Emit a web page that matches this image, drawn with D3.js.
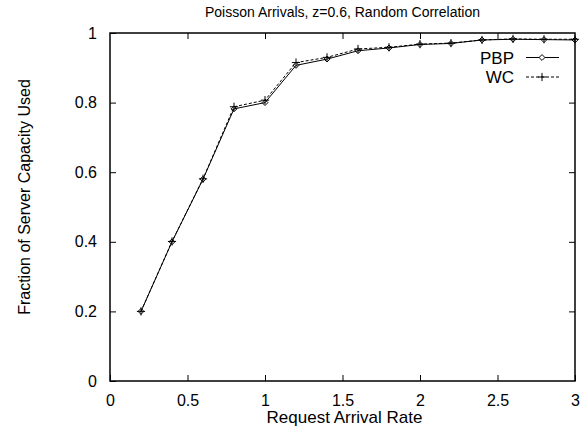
<!DOCTYPE html>
<html>
<head>
<meta charset="utf-8">
<script src="https://cdn.jsdelivr.net/npm/d3@7"></script>
<style>
  body { margin: 0; background: #fff; }
  svg { font-family: "Liberation Sans", Arial, Helvetica, sans-serif; }
</style>
</head>
<body>
<svg></svg>
<script>
const width = 581;
const height = 426;

// data
const arrivalRates = [0.2, 0.4, 0.6, 0.8, 1.0, 1.2, 1.4, 1.6, 1.8, 2.0, 2.2, 2.4, 2.6, 2.8, 3.0];
const pbpValues = [0.2, 0.4, 0.58, 0.782, 0.80, 0.907, 0.925, 0.949, 0.957, 0.967, 0.97, 0.98, 0.982, 0.981, 0.98];
const wcValues  = [0.2, 0.401, 0.581, 0.788, 0.807, 0.915, 0.93, 0.954, 0.959, 0.968, 0.971, 0.98, 0.983, 0.982, 0.982];
const xTicks = [0, 0.5, 1, 1.5, 2, 2.5, 3];
const yTicks = [0, 0.2, 0.4, 0.6, 0.8, 1];

const margin = {top: 33, right: 6, bottom: 45, left: 110};
const x0 = margin.left, x1 = width - margin.right;
const y0 = height - margin.bottom, y1 = margin.top;

const svg = d3.select('svg')
    .attr('width', width)
    .attr('height', height);

const x = d3.scaleLinear().domain([0, 3]).range([x0, x1]);
const y = d3.scaleLinear().domain([0, 1]).range([y0, y1]);

const tickLen = 6;

// bottom axis (ticks pointing in) + labels
svg.append('g')
    .attr('transform', `translate(0,${y0})`)
    .call(d3.axisBottom(x).tickValues(xTicks).tickSizeInner(-tickLen).tickSizeOuter(0).tickPadding(14)
        .tickFormat(d3.format('')))
    .call(g => g.select('.domain').remove())
    .call(g => g.selectAll('text').attr('font-size', 16).attr('fill', '#000'));

// top mirror ticks
svg.append('g')
    .attr('transform', `translate(0,${y1})`)
    .call(d3.axisTop(x).tickValues(xTicks.slice(1, -1)).tickSizeInner(-tickLen).tickSizeOuter(0).tickFormat(''))
    .call(g => g.select('.domain').remove());

// left axis
svg.append('g')
    .attr('transform', `translate(${x0},0)`)
    .call(d3.axisLeft(y).tickValues(yTicks).tickSizeInner(-tickLen).tickSizeOuter(0).tickPadding(13)
        .tickFormat(d3.format('')))
    .call(g => g.select('.domain').remove())
    .call(g => g.selectAll('text').attr('font-size', 16).attr('fill', '#000'));

// right mirror ticks
svg.append('g')
    .attr('transform', `translate(${x1},0)`)
    .call(d3.axisRight(y).tickValues(yTicks.slice(1, -1)).tickSizeInner(-tickLen).tickSizeOuter(0).tickFormat(''))
    .call(g => g.select('.domain').remove());

svg.selectAll('.tick line').attr('stroke', '#000');

// frame
svg.append('rect')
    .attr('x', x0).attr('y', y1)
    .attr('width', x1 - x0).attr('height', y0 - y1)
    .attr('fill', 'none').attr('stroke', '#000').attr('stroke-width', 1.5);

// titles
svg.append('text')
    .attr('x', (x0 + x1) / 2).attr('y', 17)
    .attr('text-anchor', 'middle').attr('font-size', 14)
    .text('Poisson Arrivals, z=0.6, Random Correlation');

svg.append('text')
    .attr('x', (x0 + x1) / 2 + 2).attr('y', 423)
    .attr('text-anchor', 'middle').attr('font-size', 17)
    .text('Request Arrival Rate');

svg.append('text')
    .attr('transform', `translate(30,${(y0 + y1) / 2 - 10}) rotate(-90)`)
    .attr('text-anchor', 'middle').attr('font-size', 16)
    .text('Fraction of Server Capacity Used');

const line = d3.line().x(d => x(d[0])).y(d => y(d[1]));
const pbp = arrivalRates.map((r, i) => [r, pbpValues[i]]);
const wc = arrivalRates.map((r, i) => [r, wcValues[i]]);

const plot = svg.append('g');

plot.append('path').datum(wc)
    .attr('d', line).attr('fill', 'none')
    .attr('stroke', '#000').attr('stroke-width', 1).attr('stroke-dasharray', '3,2');

plot.append('path').datum(pbp)
    .attr('d', line).attr('fill', 'none')
    .attr('stroke', '#000').attr('stroke-width', 1);

const diamond = d3.symbol().type(d3.symbolDiamond2).size(22);
const plus = d3.symbol().type(d3.symbolPlus).size(24);

plot.selectAll('.wc-pt').data(wc).enter()
    .append('path').attr('class', 'wc-pt')
    .attr('transform', d => `translate(${x(d[0])},${y(d[1])})`)
    .attr('d', plus).attr('fill', 'none').attr('stroke', '#000').attr('stroke-width', 1);

plot.selectAll('.pbp-pt').data(pbp).enter()
    .append('path').attr('class', 'pbp-pt')
    .attr('transform', d => `translate(${x(d[0])},${y(d[1])})`)
    .attr('d', diamond).attr('fill', 'none').attr('stroke', '#000').attr('stroke-width', 1);

// legend
const legend = svg.append('g');
const legendItems = [
  {name: 'PBP', y: 57.5, dash: null, sym: diamond, fill: '#fff'},
  {name: 'WC', y: 77, dash: '3,2', sym: plus, fill: 'none'}
];
const lg = legend.selectAll('g').data(legendItems).enter().append('g');
lg.append('text')
    .attr('x', 514).attr('y', d => d.y + 6)
    .attr('text-anchor', 'end').attr('font-size', 17)
    .text(d => d.name);
lg.append('line')
    .attr('x1', 526).attr('x2', 559)
    .attr('y1', d => d.y).attr('y2', d => d.y)
    .attr('stroke', '#000').attr('stroke-dasharray', d => d.dash);
lg.append('path')
    .attr('transform', d => `translate(542,${d.y})`)
    .attr('d', d => d.sym())
    .attr('fill', d => d.fill).attr('stroke', '#000').attr('stroke-width', 1);
</script>
</body>
</html>
